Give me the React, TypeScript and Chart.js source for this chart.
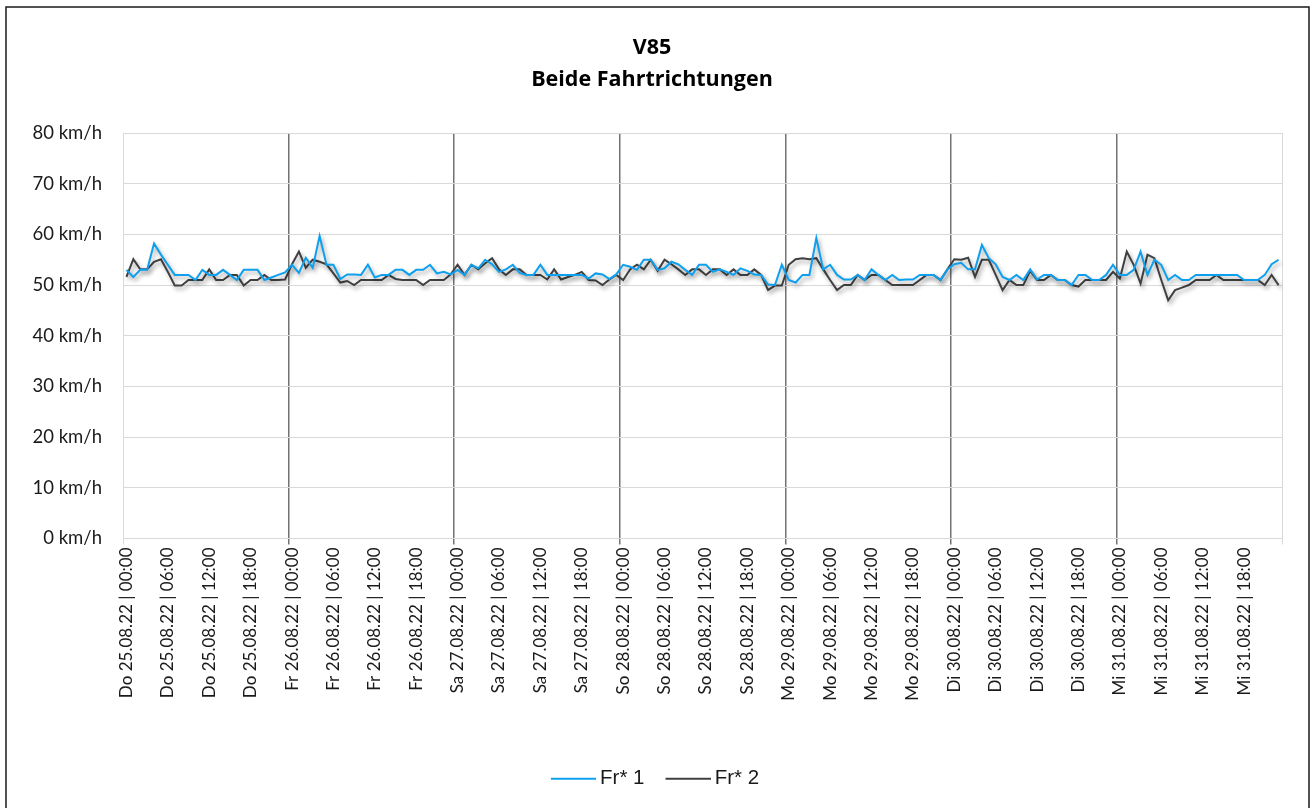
import React, { useEffect, useRef } from 'react';
import { Chart, registerables } from 'chart.js';

Chart.register(...registerables);

const DAYS = ['Do 25.08.22', 'Fr 26.08.22', 'Sa 27.08.22', 'So 28.08.22', 'Mo 29.08.22', 'Di 30.08.22', 'Mi 31.08.22'];
const HOURS = [
  '00:00', '01:00', '02:00', '03:00', '04:00', '05:00', '06:00', '07:00',
  '08:00', '09:00', '10:00', '11:00', '12:00', '13:00', '14:00', '15:00',
  '16:00', '17:00', '18:00', '19:00', '20:00', '21:00', '22:00', '23:00',
];
const CATEGORIES = DAYS.flatMap((d) => HOURS.map((h) => `${d} | ${h}`));
const LABEL_EVERY = 6;
const DAY_LEN = HOURS.length;

const Y_MIN = 0;
const Y_MAX = 80;
const Y_STEP = 10;
const Y_UNIT = ' km/h';

const TITLE = ['V85', 'Beide Fahrtrichtungen'];

const FR1_LABEL = 'Fr* 1';
const FR1 = [
  53, 51.6, 53, 53, 58.2, 56, 54, 52, 52, 52, 51, 53, 52, 52, 53, 52, 51, 53, 53, 53, 51, 51.5, 52, 52.5,
  54, 52.4, 55.4, 53.4, 59.7, 54, 54, 51.2, 52.1, 52.1, 52, 54, 51.5, 52, 52, 53, 53, 52, 53, 53, 54, 52.3, 52.6, 52.1,
  53, 52, 54, 53.3, 55, 54.1, 52.6, 53.1, 54, 52.4, 52, 52, 54, 52, 52, 52, 52, 52, 52, 51.3, 52.3, 52.1, 51.2, 52.1,
  54, 53.6, 53, 55, 55, 53, 53.3, 54.6, 54.1, 53, 52, 54, 54, 52.6, 53.1, 52.6, 52, 53.3, 52.8, 52.1, 52, 50.1, 50, 54,
  51, 50.5, 52, 52, 59.3, 53.1, 54, 52, 51.1, 51.1, 52, 51, 53.1, 52, 51, 52, 51, 51.1, 51.1, 52, 52, 52, 51, 53.1,
  54.1, 54.4, 53.1, 53.1, 57.9, 55.3, 54.1, 51.6, 51, 52, 51, 53.1, 51.1, 52, 52, 51, 51, 50, 52, 52, 51, 51, 52, 54,
  52, 52, 53, 56.6, 52, 55, 54, 51, 52, 51, 51, 52, 52, 52, 52, 52, 52, 52, 51, 51, 51, 52, 54.1, 55,
];

const FR2_LABEL = 'Fr* 2';
const FR2 = [
  51.6, 55.1, 53.1, 53.1, 54.6, 55.1, 52.6, 49.9, 49.9, 51, 51, 51, 53.1, 51, 51, 52, 52, 49.9, 51, 51, 52, 51, 51, 51.1,
  54.1, 56.6, 53.4, 55, 54.6, 54.1, 52.3, 50.5, 50.8, 50, 51, 51, 51, 51, 52, 51.2, 51, 51, 51, 50, 51, 51, 51, 52.1,
  54, 52, 54, 53.1, 54.3, 55.3, 53.1, 52, 53.1, 53.1, 52, 52, 52, 51.1, 53.1, 51.1, 51.6, 52, 52.6, 51, 50.9, 50, 51.1, 52,
  51, 53.1, 54, 53.1, 55, 52.8, 55, 54.1, 53.1, 52, 53.1, 53.1, 52, 53.1, 53.1, 52, 53.1, 52, 52, 53.1, 52, 49, 49.9, 49.9,
  54, 55.1, 55.3, 55.1, 55.3, 53.1, 51, 49, 50, 50, 52, 51, 52, 52, 51, 50, 50, 50, 50, 51, 52, 52, 51, 53.1,
  55.1, 55, 55.4, 51.6, 55, 55, 52, 49, 51, 50, 50, 52.8, 51, 51, 52, 51, 51, 50, 49.7, 51, 51, 51, 51, 52.6,
  51.3, 56.6, 54, 50.3, 56, 55.3, 51, 47, 49, 49.5, 50, 51, 51, 51, 52, 51, 51, 51, 51, 51, 51, 50, 52, 50,
];

const BLUE = '#0ea0ee';
const DARK = '#404040';
const GRID_LIGHT = '#d9d9d9';
const GRID_DAY = '#737373';
const TRANSPARENT = 'rgba(0,0,0,0)';
const TEXT = '#1a1a1a';

function legendLine(color: string) {
  const c = document.createElement('canvas');
  c.width = 57;
  c.height = 4;
  const g = c.getContext('2d')!;
  g.strokeStyle = color;
  g.lineWidth = 2;
  g.beginPath();
  g.moveTo(12, 2);
  g.lineTo(57, 2);
  g.stroke();
  return c;
}

const shadowPlugin = {
  id: 'lineShadow',
  beforeDatasetsDraw(chart: any) {
    const ctx = chart.ctx;
    ctx.save();
    ctx.shadowColor = 'rgba(0,0,0,0.35)';
    ctx.shadowBlur = 4;
    ctx.shadowOffsetX = 2;
    ctx.shadowOffsetY = 3;
  },
  afterDatasetsDraw(chart: any) {
    chart.ctx.restore();
  },
};

const framePlugin = {
  id: 'frame',
  beforeDraw(chart: any) {
    const ctx = chart.ctx;
    ctx.save();
    ctx.fillStyle = '#ffffff';
    ctx.fillRect(0, 0, chart.width, chart.height);
    ctx.restore();
  },
  afterDraw(chart: any) {
    const ctx = chart.ctx;
    ctx.save();
    ctx.strokeStyle = '#1a1a1a';
    ctx.lineWidth = 1.5;
    ctx.strokeRect(6, 7, chart.width - 8, chart.height + 20);
    ctx.restore();
  },
};

export default function App() {
  const ref = useRef<HTMLCanvasElement | null>(null);

  useEffect(() => {
    if (!ref.current) return;
    const isDay = (ctx: any) => ctx.type === 'tick' && ctx.index > 0 && ctx.index % DAY_LEN === 0;
    const chart = new Chart(ref.current, {
      type: 'line',
      data: {
        labels: CATEGORIES,
        datasets: [
          {
            label: FR1_LABEL,
            data: FR1,
            borderColor: BLUE,
            backgroundColor: BLUE,
            borderWidth: 2,
            pointRadius: 0,
            pointHoverRadius: 0,
            pointStyle: legendLine(BLUE) as any,
            tension: 0,
            fill: false,
          },
          {
            label: FR2_LABEL,
            data: FR2,
            borderColor: DARK,
            backgroundColor: DARK,
            borderWidth: 2,
            pointRadius: 0,
            pointHoverRadius: 0,
            pointStyle: legendLine(DARK) as any,
            tension: 0,
            fill: false,
          },
        ],
      },
      options: {
        responsive: false,
        animation: false,
        events: [],
        layout: { padding: { left: 0, right: 7, top: 0, bottom: 9 } },
        plugins: {
          title: {
            display: true,
            text: TITLE,
            color: '#000',
            font: { family: 'Open Sans', size: 21.5, weight: 'bold', lineHeight: 32 / 21.5 },
            padding: { top: 32, bottom: 37 },
          },
          legend: {
            display: true,
            position: 'bottom',
            labels: {
              usePointStyle: true,
              pointStyleWidth: 45,
              boxWidth: 45,
              padding: 15,
              color: TEXT,
              font: { family: 'Liberation Sans', size: 20.5 },
            },
          },
          tooltip: { enabled: false },
        },
        scales: {
          x: {
            type: 'category',
            offset: true,
            afterFit: (scale: any) => {
              scale.height = 215;
            },
            grid: {
              offset: true,
              drawTicks: true,
              tickLength: 6,
              color: (ctx: any) => (ctx.type !== 'tick' ? GRID_LIGHT : isDay(ctx) ? GRID_DAY : TRANSPARENT),
              tickColor: (ctx: any) =>
                ctx.type !== 'tick' ? GRID_LIGHT : ctx.index === 0 ? GRID_LIGHT : isDay(ctx) ? GRID_DAY : TRANSPARENT,
              lineWidth: (ctx: any) => (isDay(ctx) ? 1.5 : 1),
            },
            border: { display: true, color: GRID_LIGHT, width: 1 },
            ticks: {
              autoSkip: false,
              minRotation: 90,
              maxRotation: 90,
              padding: 3,
              color: TEXT,
              font: { family: 'Lato', size: 17 },
              callback: (_v: any, i: number) => (i % LABEL_EVERY === 0 ? CATEGORIES[i] : ''),
            },
          },
          y: {
            min: Y_MIN,
            max: Y_MAX,
            afterFit: (scale: any) => {
              scale.width = 123;
            },
            grid: { color: GRID_LIGHT, lineWidth: 1, drawTicks: false },
            border: { display: true, color: GRID_LIGHT, width: 1 },
            ticks: {
              stepSize: Y_STEP,
              padding: 21,
              color: TEXT,
              font: { family: 'Lato', size: 18.5 },
              callback: (v: any) => `${v}${Y_UNIT}`,
            },
          },
          yRightSpace: {
            position: 'right',
            display: true,
            afterFit: (scale: any) => {
              scale.width = 22;
            },
            grid: { display: false, drawTicks: false },
            border: { display: false },
            ticks: { display: false },
          },
        },
      },
      plugins: [shadowPlugin, framePlugin],
    });
    return () => chart.destroy();
  }, []);

  return (
    <div style={{ position: 'absolute', left: 0, top: 0, width: 1311, height: 808, overflow: 'hidden' }}>
      <canvas ref={ref} width={1311} height={808} style={{ display: 'block', width: 1311, height: 808 }} />
    </div>
  );
}
